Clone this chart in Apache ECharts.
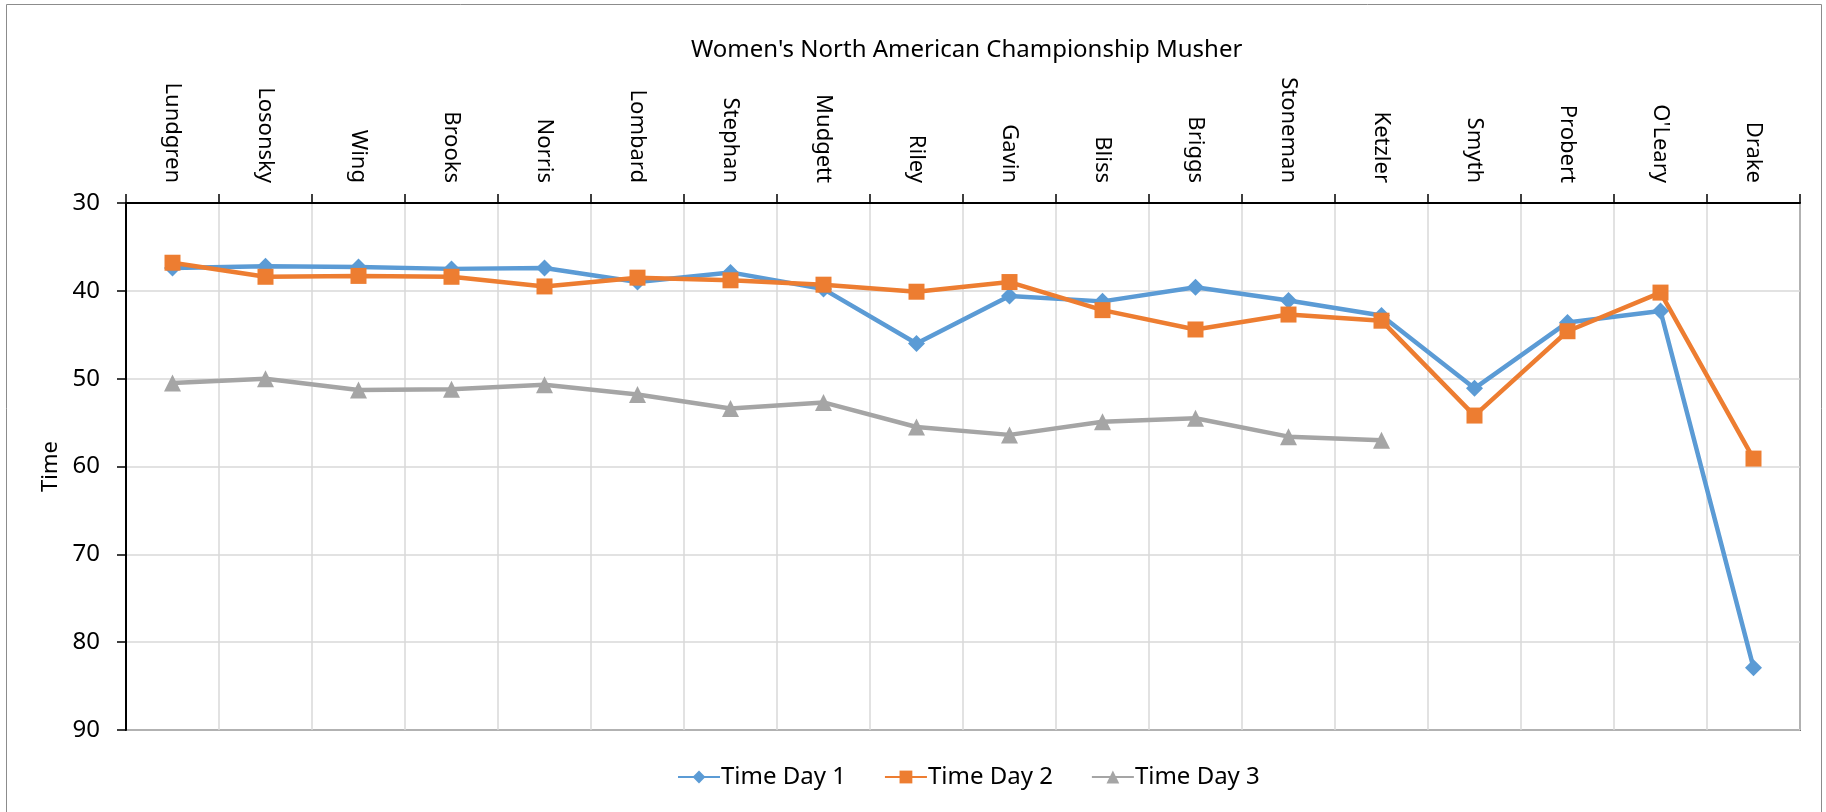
<!DOCTYPE html>
<html>
<head>
<meta charset="utf-8">
<script src="https://cdn.jsdelivr.net/npm/echarts@6/dist/echarts.min.js"></script>
<style>
  html, body { margin: 0; padding: 0; background: #fff; }
  #main { width: 1826px; height: 812px; }
</style>
</head>
<body>
<div id="main"></div>
<script>
// mushers, in start order
var mushers = ['Lundgren', 'Losonsky', 'Wing', 'Brooks', 'Norris', 'Lombard', 'Stephan', 'Mudgett', 'Riley',
  'Gavin', 'Bliss', 'Briggs', 'Stoneman', 'Ketzler', 'Smyth', 'Probert', "O'Leary", 'Drake'];
var day1 = [37.4, 37.2, 37.3, 37.5, 37.4, 39.0, 37.9, 39.8, 46.0, 40.6, 41.2, 39.6, 41.1, 42.8, 51.1, 43.6, 42.3, 82.9];
var day2 = [36.8, 38.4, 38.3, 38.4, 39.5, 38.5, 38.8, 39.3, 40.1, 39.0, 42.2, 44.4, 42.7, 43.4, 54.2, 44.6, 40.2, 59.1];
// day 3 stops after Ketzler
var day3 = [50.5, 50.0, 51.3, 51.2, 50.7, 51.8, 53.4, 52.7, 55.5, 56.4, 54.9, 54.5, 56.6, 57.0, null, null, null, null];
var yTicks = [30, 90, 10]; // min, max, step

var chart = echarts.init(document.getElementById('main'));
var font = 'Noto Sans';

var option = {
  color: ['#5B9BD5', '#ED7D31', '#A5A5A5'],
  animation: false,
  textStyle: { fontFamily: font },
  // title and legend are centred over the plot, not the page
  title: {
    text: "Women's North American Championship Musher",
    left: 686,
    top: 33,
    textStyle: { fontSize: 24, fontWeight: 'normal', color: '#000', fontFamily: font }
  },
  graphic: [{
    type: 'rect',
    shape: { x: 6.5, y: 4.5, width: 1815, height: 820 },
    style: { fill: 'none', stroke: '#8c8c8c', lineWidth: 1 },
    silent: true
  }],
  legend: {
    data: ['Time Day 1', 'Time Day 2', 'Time Day 3'],
    bottom: 18,
    left: 672,
    itemWidth: 42,
    itemHeight: 16,
    itemGap: 38,
    textStyle: { fontSize: 24, color: '#000', fontFamily: font, padding: [0, 0, 0, -4] }
  },
  grid: {
    left: 126,
    right: 26,
    top: 203,
    bottom: 82,
    show: true,
    borderColor: '#000',
    borderWidth: 1.5
  },
  xAxis: {
    type: 'category',
    position: 'top',
    data: mushers,
    boundaryGap: true,
    axisLine: { lineStyle: { color: '#000', width: 2 } },
    axisTick: { show: true, length: 9, lineStyle: { color: '#000', width: 1.5 } },
    axisLabel: { rotate: 90, fontSize: 22, color: '#000', margin: 20, interval: 0 },
    splitLine: { show: true, lineStyle: { color: '#d9d9d9', width: 1.5 } }
  },
  yAxis: {
    type: 'value',
    inverse: true,
    min: yTicks[0],
    max: yTicks[1],
    interval: yTicks[2],
    name: 'Time',
    nameLocation: 'middle',
    nameGap: 64,
    nameTextStyle: { fontSize: 22, color: '#000' },
    axisLine: { show: true, lineStyle: { color: '#000', width: 2 } },
    axisTick: { show: true, length: 9, lineStyle: { color: '#000', width: 1.5 } },
    axisLabel: { fontSize: 24, color: '#000', margin: 26 },
    splitLine: { show: true, lineStyle: { color: '#d9d9d9', width: 1.5 } }
  },
  series: [
    {
      name: 'Time Day 1',
      type: 'line',
      data: day1,
      symbol: 'diamond',
      symbolSize: 17,
      lineStyle: { width: 4.5 }
    },
    {
      name: 'Time Day 2',
      type: 'line',
      data: day2,
      symbol: 'rect',
      symbolSize: 16,
      lineStyle: { width: 4.5 }
    },
    {
      name: 'Time Day 3',
      type: 'line',
      data: day3,
      symbol: 'triangle',
      symbolSize: 17,
      lineStyle: { width: 4.5 }
    }
  ]
};

chart.setOption(option);
</script>
</body>
</html>
